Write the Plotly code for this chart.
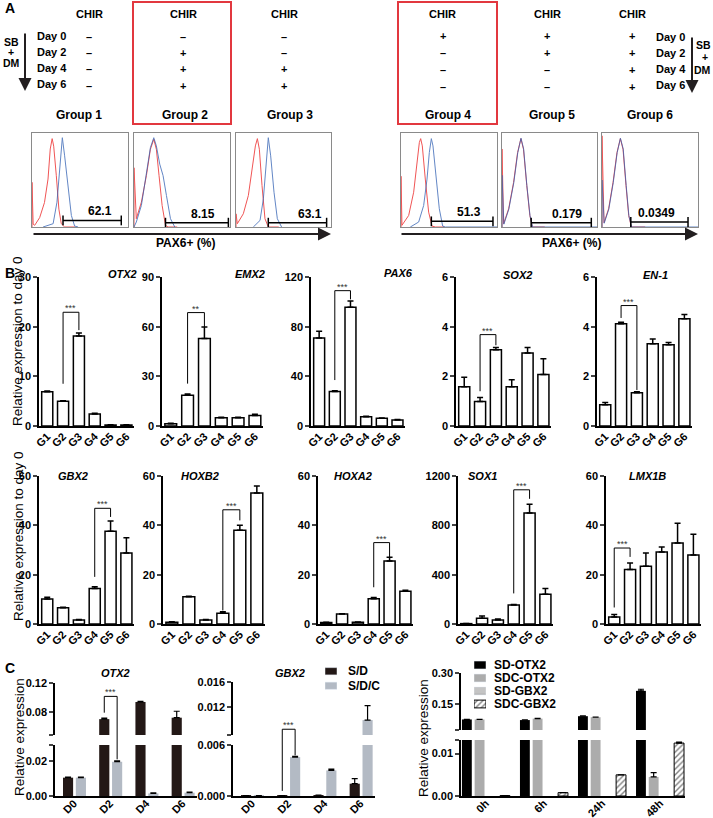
import plotly.graph_objects as go

W, H = 713, 818
FONT = "Liberation Sans, Arial, sans-serif"

# ---------------- Panel A data ----------------
group_names = ["Group 1", "Group 2", "Group 3", "Group 4", "Group 5", "Group 6"]
day_labels = ["Day 0", "Day 2", "Day 4", "Day 6"]
chir_table = [["–", "–", "–", "–"], ["–", "+", "+", "+"], ["–", "–", "+", "+"],
              ["+", "–", "–", "–"], ["+", "+", "–", "–"], ["+", "+", "+", "+"]]
pax6_pct = ["62.1", "8.15", "63.1", "51.3", "0.179", "0.0349"]

hist_red_x = [
    [0, 0, 0.012, 0.028, 0.08, 0.13, 0.167, 0.19, 0.21, 0.226, 0.253, 0.28, 0.305, 0.34, 0.45],
    [0, 0, 0.024, 0.077, 0.129, 0.171, 0.206, 0.233, 0.261, 0.293, 0.328, 0.355, 0.45],
    [0, 0, 0.014, 0.077, 0.13, 0.172, 0.204, 0.225, 0.246, 0.274, 0.305, 0.34, 0.45],
    [0, 0, 0.01, 0.08, 0.132, 0.167, 0.191, 0.205, 0.222, 0.253, 0.288, 0.323, 0.358, 0.45],
    [0, 0, 0.017, 0.07, 0.122, 0.164, 0.199, 0.226, 0.261, 0.293, 0.32, 0.45],
    [0, 0, 0.021, 0.069, 0.115, 0.156, 0.191, 0.219, 0.25, 0.278, 0.306, 0.45],
]
hist_red_y = [
    [0, 0.475, 0.03, 0.018, 0.10, 0.26, 0.51, 0.83, 0.94, 0.86, 0.55, 0.19, 0.035, 0, 0],
    [0, 0.63, 0.088, 0.264, 0.546, 0.827, 0.933, 0.827, 0.546, 0.229, 0.018, 0, 0],
    [0, 0.14, 0.035, 0.141, 0.335, 0.616, 0.863, 0.94, 0.827, 0.44, 0.088, 0, 0],
    [0, 0.54, 0.018, 0.123, 0.37, 0.651, 0.898, 0.94, 0.863, 0.51, 0.158, 0.01, 0, 0],
    [0, 0.83, 0.035, 0.194, 0.475, 0.792, 0.94, 0.827, 0.44, 0.123, 0, 0],
    [0, 0.97, 0.046, 0.194, 0.475, 0.792, 0.94, 0.827, 0.44, 0.123, 0, 0],
]
hist_blue_x = [
    [0.115, 0.22, 0.26, 0.288, 0.309, 0.316, 0.34, 0.375, 0.41, 0.444, 0.48],
    [0.0, 0.024, 0.077, 0.129, 0.171, 0.206, 0.233, 0.268, 0.303, 0.338, 0.38, 0.425],
    [0.182, 0.253, 0.288, 0.312, 0.33, 0.34, 0.365, 0.4, 0.435, 0.48],
    [0.097, 0.184, 0.236, 0.271, 0.295, 0.316, 0.333, 0.365, 0.399, 0.434, 0.462, 1.0],
    [0, 0, 0.02, 0.072, 0.124, 0.166, 0.2, 0.228, 0.262, 0.295, 0.322, 1.0],
    [0, 0, 0.023, 0.071, 0.117, 0.158, 0.192, 0.221, 0.252, 0.28, 0.308, 1.0],
]
hist_blue_y = [
    [0, 0.035, 0.264, 0.616, 0.933, 0.95, 0.757, 0.44, 0.123, 0.01, 0],
    [0.0, 0.053, 0.229, 0.546, 0.845, 0.95, 0.863, 0.669, 0.546, 0.335, 0.088, 0],
    [0, 0.07, 0.30, 0.616, 0.915, 0.95, 0.757, 0.37, 0.088, 0],
    [0, 0.053, 0.229, 0.51, 0.792, 0.94, 0.863, 0.546, 0.194, 0.01, 0, 0],
    [0, 0.55, 0.03, 0.19, 0.47, 0.79, 0.945, 0.83, 0.44, 0.12, 0, 0],
    [0, 0.5, 0.04, 0.19, 0.47, 0.79, 0.945, 0.83, 0.44, 0.12, 0, 0],
]
gate_x = [[0.323, 0.93], [0.328, 0.983], [0.34, 0.954], [0.316, 0.958], [0.307, 0.94], [0.30, 0.896]]
gate_y = [0.07, 0.046, 0.046, 0.06, 0.046, 0.053]
gate_text_x = [0.705, 0.72, 0.779, 0.705, 0.68, 0.566]

# ---------------- Panel B data ----------------
groups_b = ["G1", "G2", "G3", "G4", "G5", "G6"]
genes_b = ["OTX2", "EMX2", "PAX6", "SOX2", "EN-1", "GBX2", "HOXB2", "HOXA2", "SOX1", "LMX1B"]
otx2_b = [6.9, 5.0, 18.1, 2.4, 0.2, 0.2]
otx2_b_err = [0.15, 0.1, 0.6, 0.15, 0.05, 0.05]
emx2_b = [1.4, 18.5, 52.8, 5.0, 5.0, 6.4]
emx2_b_err = [0.2, 0.8, 7.0, 0.3, 0.3, 0.7]
pax6_b = [70.9, 27.8, 95.7, 7.5, 6.2, 4.9]
pax6_b_err = [5.4, 0.5, 4.9, 0.4, 0.3, 0.3]
sox2_b = [1.58, 0.99, 3.07, 1.58, 2.94, 2.07]
sox2_b_err = [0.38, 0.16, 0.09, 0.28, 0.22, 0.64]
en1_b = [0.86, 4.12, 1.34, 3.31, 3.27, 4.32]
en1_b_err = [0.09, 0.06, 0.04, 0.19, 0.09, 0.17]
gbx2_b = [10.1, 6.6, 1.6, 14.4, 37.6, 28.8]
gbx2_b_err = [0.7, 0.2, 0.2, 0.7, 4.2, 6.2]
hoxb2_b = [0.7, 11.0, 1.6, 4.4, 38.0, 53.1]
hoxb2_b_err = [0.2, 0.2, 0.2, 0.6, 2.0, 2.8]
hoxa2_b = [0.6, 4.1, 0.7, 10.2, 25.5, 13.3]
hoxa2_b_err = [0.1, 0.1, 0.1, 0.5, 1.6, 0.4]
sox1_b = [3, 46, 32, 154, 900, 242]
sox1_b_err = [1, 19, 8, 5, 70, 46]
lmx1b_b = [2.8, 22.1, 23.4, 29.2, 32.8, 28.0]
lmx1b_b_err = [1.1, 2.6, 5.4, 2.0, 8.0, 8.4]
values_b = [otx2_b, emx2_b, pax6_b, sox2_b, en1_b, gbx2_b, hoxb2_b, hoxa2_b, sox1_b, lmx1b_b]
errors_b = [otx2_b_err, emx2_b_err, pax6_b_err, sox2_b_err, en1_b_err,
            gbx2_b_err, hoxb2_b_err, hoxa2_b_err, sox1_b_err, lmx1b_b_err]
ymax_b = [30, 90, 120, 6, 6, 60, 60, 60, 1200, 60]
dtick_b = [10, 30, 40, 2, 2, 20, 20, 20, 400, 20]
# significance: (from, to, top, leg1 bottom, leg2 bottom, label)
sig_b = [(1, 2, 22.9, 8.5, 19.3, "***"), (1, 2, 68.5, 25.6, 59.8, "**"), (1, 2, 109, 37, 102, "***"),
         (1, 2, 3.68, 1.4, 3.25, "***"), (1, 2, 4.85, 4.35, 1.45, "***"), (3, 4, 46.9, 19.1, 43.4, "***"),
         (3, 4, 46.3, 5.5, 42, "***"), (3, 4, 33, 14.9, 27.1, "***"), (3, 4, 1088, 248, 1015, "***"),
         (0, 1, 30.8, 6.7, 27.2, "***")]

# ---------------- Panel C data ----------------
days_c = ["D0", "D2", "D4", "D6"]
otx2_sd = [0.0105, 0.0700, 0.0940, 0.0720]
otx2_sd_err = [0.0003, 0.0014, 0.0010, 0.0090]
otx2_sdc = [0.0105, 0.0196, 0.0015, 0.0019]
otx2_sdc_err = [0.0003, 0.0005, 0.0003, 0.0003]
gbx2_sd = [0.00005, 0.00005, 0.0001, 0.00145]
gbx2_sd_err = [0, 0, 0, 0.0006]
gbx2_sdc = [0.00005, 0.00459, 0.00302, 0.00997]
gbx2_sdc_err = [0, 0.0001, 0.00015, 0.0023]
times_c = ["0h", "6h", "24h", "48h"]
sd_otx2 = [0.073, 0.070, 0.089, 0.213]
sd_otx2_err = [0.001, 0.001, 0.001, 0.008]
sdc_otx2 = [0.073, 0.077, 0.084, 0.0045]
sdc_otx2_err = [0.001, 0.001, 0.001, 0.001]
sd_gbx2 = [0, 0, 0, 0]
sdc_gbx2 = [0.0001, 0.0008, 0.005, 0.0125]
sdc_gbx2_err = [0, 0, 0, 0.0002]

# ---------------- helpers ----------------
traces, annotations, shapes, axes = [], [], [], {}
n_ax = [0]


def add_axes(px0, px1, py0, py1, xo, yo):
    n_ax[0] += 1
    k = "" if n_ax[0] == 1 else str(n_ax[0])
    axes["xaxis" + k] = dict(domain=[px0 / W, px1 / W], anchor="y" + k, automargin=False, **xo)
    axes["yaxis" + k] = dict(domain=[1 - py1 / H, 1 - py0 / H], anchor="x" + k, automargin=False, **yo)
    return "x" + k, "y" + k


def fnt(size=11, bold=True, italic=False, color="black"):
    return dict(family=FONT, size=size, color=color, weight="bold" if bold else "normal",
                style="italic" if italic else "normal")


def text(t, px, py, size=11, bold=True, italic=False, angle=0, xanchor="center", yanchor="middle", color="black"):
    annotations.append(dict(text=t, x=px / W, y=1 - py / H, xref="paper", yref="paper", showarrow=False,
                            textangle=angle, xanchor=xanchor, yanchor=yanchor,
                            font=fnt(size, bold, italic, color)))


def arrow(px, py, ax, ay, width=2.0, size=1.0):
    annotations.append(dict(x=px / W, y=1 - py / H, xref="paper", yref="paper", ax=ax, ay=ay,
                            showarrow=True, arrowhead=2, arrowsize=size, arrowwidth=width,
                            arrowcolor="#231f20", text=""))


def line_trace(xa, ya, xs, ys, width=1.0):
    traces.append(go.Scatter(x=xs, y=ys, mode="lines", line=dict(color="black", width=width),
                             xaxis=xa, yaxis=ya, hoverinfo="skip", showlegend=False))


def stars(xa, ya, x, y, label, size=9):
    annotations.append(dict(text=label, x=x, y=y, xref=xa, yref=ya, showarrow=False, yanchor="bottom",
                            yshift=-3, font=fnt(size, False, False, "#333")))


hidden = dict(visible=False, showgrid=False, zeroline=False)

# ---------------- Panel A ----------------
text("A", 3, 8, size=14, xanchor="left")
chir_x = [89, 183, 284, 443, 547, 632]
rows_left = [37, 53, 69, 86]
rows_right = [36, 53, 70, 87]
for g in range(6):
    text("CHIR", chir_x[g], 14, size=11)
    rows = rows_left if g < 3 else rows_right
    for r in range(4):
        text(chir_table[g][r], chir_x[g], rows[r], size=11)
for r in range(4):
    text(day_labels[r], 35, [36, 52, 68, 84][r], size=11, xanchor="left")
    text(day_labels[r], 654, [37, 53, 69, 85][r], size=11, xanchor="left")
for t, y in zip(["SB", "+", "DM"], [42, 52, 63]):
    text(t, 11, y, size=10.5)
text("SB", 713, 45, size=10.5, xanchor="right")
text("+", 705, 57, size=10.5)
text("DM", 713, 70, size=10.5, xanchor="right")
arrow(25, 91, 0, -59, width=2, size=1.3)
arrow(692, 93, 0, -57, width=2, size=1.3)
group_label_x = [79, 185, 290, 448, 552, 650]
for g in range(6):
    text(group_names[g], group_label_x[g], 115, size=12)
for (x0, x1) in [(133, 231), (398, 497)]:
    shapes.append(dict(type="rect", xref="paper", yref="paper", x0=x0 / W, x1=x1 / W,
                       y0=1 - 124 / H, y1=1 - 2 / H, line=dict(color="#e2383f", width=2)))

hist_boxes = [(32, 128), (134, 230), (236, 331), (401, 497), (502, 597), (602, 698)]
for g in range(6):
    xo = dict(range=[0, 1], showline=True, mirror=True, linecolor="#8a8a8a", linewidth=1,
              showticklabels=False, ticks="", showgrid=False, zeroline=False)
    yo = dict(range=[0, 1], showline=True, mirror=True, linecolor="#8a8a8a", linewidth=1,
              showticklabels=False, ticks="", showgrid=False, zeroline=False)
    xa, ya = add_axes(hist_boxes[g][0], hist_boxes[g][1], 133, 227, xo, yo)
    traces.append(go.Scatter(x=hist_red_x[g], y=hist_red_y[g], mode="lines",
                             line=dict(color="#f05555", width=1), xaxis=xa, yaxis=ya, showlegend=False))
    traces.append(go.Scatter(x=hist_blue_x[g], y=hist_blue_y[g], mode="lines", opacity=0.75,
                             line=dict(color="#2f5fb3", width=1), xaxis=xa, yaxis=ya, showlegend=False))
    traces.append(go.Scatter(x=gate_x[g], y=[gate_y[g]] * 2, mode="lines+markers",
                             line=dict(color="black", width=1.5),
                             marker=dict(symbol="line-ns", size=7, line=dict(width=1.5, color="black")),
                             xaxis=xa, yaxis=ya, showlegend=False))
    annotations.append(dict(text=pax6_pct[g], x=gate_text_x[g], y=gate_y[g], xref=xa, yref=ya,
                            showarrow=False, yanchor="bottom", font=fnt(12)))
arrow(331, 234, -299, 0, width=2, size=1.3)
arrow(698, 234, -298, 0, width=2, size=1.3)
text("PAX6+ (%)", 185, 243, size=12)
text("PAX6+ (%)", 571, 243, size=12)

# ---------------- Panel B ----------------
text("B", 3, 273, size=14, xanchor="left")
b_dom_x = [(39, 134), (162, 263), (311, 405), (456, 551), (597, 692),
           (39, 134), (163, 265), (318, 413), (458, 553), (606, 701)]
b_dom_y = [(277, 426)] * 5 + [(476, 624)] * 5
b_title_pos = [(122, 274), (250, 274), (398, 273), (517, 275), (655, 275),
               (73, 476), (200, 476), (353, 476), (483, 476), (647, 476)]
for i in range(10):
    xo = dict(range=[-0.52, 5.48], showline=True, linecolor="black", linewidth=1.5, ticks="",
              tickvals=list(range(6)), ticktext=groups_b, tickangle=-45, tickfont=fnt(11),
              ticklabelstandoff=-2, showgrid=False, zeroline=False)
    yo = dict(range=[0, ymax_b[i]], tick0=0, dtick=dtick_b[i], showline=True, linecolor="black",
              linewidth=1.5, ticks="outside", ticklen=4, tickwidth=1.5, tickfont=fnt(11),
              showgrid=False, zeroline=False)
    xa, ya = add_axes(b_dom_x[i][0], b_dom_x[i][1], b_dom_y[i][0], b_dom_y[i][1], xo, yo)
    traces.append(go.Bar(x=list(range(6)), y=values_b[i], width=0.7,
                         marker=dict(color="white", line=dict(color="black", width=1.5)),
                         error_y=dict(type="data", array=errors_b[i], arrayminus=[0] * 6, symmetric=False,
                                      color="black", thickness=1.5, width=3),
                         xaxis=xa, yaxis=ya, showlegend=False))
    i1, i2, top, b1, b2, lab = sig_b[i]
    line_trace(xa, ya, [i1, i1, i2, i2], [b1, top, top, b2])
    stars(xa, ya, (i1 + i2) / 2, top, lab)
    text(genes_b[i], b_title_pos[i][0], b_title_pos[i][1], size=11, italic=True)
text("Relative expression to day 0", 18, 341, size=13.5, bold=False, angle=-90)
text("Relative expression to day 0", 18, 536, size=13.5, bold=False, angle=-90)

# ---------------- Panel C ----------------
text("C", 3, 668, size=14, xanchor="left")
C_SD, C_SDC = "#231816", "#b3bac4"


def yax(rng, tv, tt):
    return dict(range=rng, tickvals=tv, ticktext=tt, showline=True, linecolor="black", linewidth=1.5,
                ticks="outside", ticklen=4, tickwidth=1.5, tickfont=fnt(11), showgrid=False, zeroline=False)


def xax(rng, labels, show=True):
    if not show:
        return dict(range=rng, visible=False, showgrid=False, zeroline=False)
    return dict(range=rng, showline=True, linecolor="black", linewidth=1.5, ticks="",
                tickvals=list(range(len(labels))), ticktext=labels, tickangle=-45,
                tickfont=fnt(11), ticklabelstandoff=-5, showgrid=False, zeroline=False)


def px_of(v, p0, p1, r0, r1):
    return p0 + (v - r0) / (r1 - r0) * (p1 - p0)


def bar(xa, ya, vals, errs, color, offset, width, line=None, pattern=None):
    marker = dict(color=color, line=line or dict(width=0))
    if pattern:
        marker["pattern"] = pattern
    kw = {}
    if errs is not None:
        kw["error_y"] = dict(type="data", array=errs, arrayminus=[0] * len(vals), symmetric=False,
                             color="black", thickness=1.2, width=3)
    traces.append(go.Bar(x=list(range(len(vals))), y=vals, offset=offset, width=width, marker=marker,
                         xaxis=xa, yaxis=ya, showlegend=False, **kw))


xr_c = [-0.52, 3.4]
w_c, off_sd, off_sdc = 0.28, -0.30, 0.055
left_specs = [
    dict(px=(55, 197), up=(683, 735, [0.0478, 0.1205], [0.0481, 0.08, 0.12], ["", "0.08", "0.12"]),
         lo=(745, 796, [0, 0.0292], [0, 0.02, 0.0291], ["0.00", "0.02", ""]),
         sd=(otx2_sd, otx2_sd_err), sdc=(otx2_sdc, otx2_sdc_err), title=("OTX2", 115)),
    dict(px=(233, 375), up=(682, 735, [0.00758, 0.01605], [0.0076, 0.012, 0.016], ["", "0.012", "0.016"]),
         lo=(745, 796, [0, 0.00602], [0, 0.006], ["0.000", "0.006"]),
         sd=(gbx2_sd, gbx2_sd_err), sdc=(gbx2_sdc, gbx2_sdc_err), title=("GBX2", 290)),
]
cx_sd = off_sd + w_c / 2
cx_sdc = off_sdc + w_c / 2
sub = []
for s in left_specs:
    u = s["up"]
    lo = s["lo"]
    xa_u, ya_u = add_axes(s["px"][0], s["px"][1], u[0], u[1], xax(xr_c, days_c, False), yax(u[2], u[3], u[4]))
    xa_l, ya_l = add_axes(s["px"][0], s["px"][1], lo[0], lo[1], xax(xr_c, days_c, True), yax(lo[2], lo[3], lo[4]))
    for xa, ya in [(xa_u, ya_u), (xa_l, ya_l)]:
        bar(xa, ya, s["sd"][0], s["sd"][1], C_SD, off_sd, w_c)
        bar(xa, ya, s["sdc"][0], s["sdc"][1], C_SDC, off_sdc, w_c)
    text(s["title"][0], s["title"][1], 673, size=11, italic=True)
    sub.append((xa_u, ya_u, xa_l, ya_l, s))

# OTX2 bracket (D2 S/D vs S/D/C), crossing the axis break on the right leg
xa_u, ya_u, xa_l, ya_l, s = sub[0]
xl, xr = 1 + cx_sd, 1 + cx_sdc
line_trace(xa_u, ya_u, [xl, xl, xr, xr], [0.079, 0.1018, 0.1018, 0.0])
line_trace(xa_l, ya_l, [xr, xr], [0.021, 0.1])
stars(xa_u, ya_u, (xl + xr) / 2, 0.1018, "***")
gx = px_of(xr, s["px"][0], s["px"][1], xr_c[0], xr_c[1])
shapes.append(dict(type="line", xref="paper", yref="paper", x0=gx / W, x1=gx / W,
                   y0=1 - s["lo"][0] / H, y1=1 - s["up"][1] / H, line=dict(color="black", width=1)))
# GBX2 bracket, both legs crossing the break
xa_u, ya_u, xa_l, ya_l, s = sub[1]
line_trace(xa_u, ya_u, [xl, xl, xr, xr], [0.0, 0.0085, 0.0085, 0.0])
line_trace(xa_l, ya_l, [xl, xl], [0.0006, 0.01])
line_trace(xa_l, ya_l, [xr, xr], [0.0048, 0.01])
stars(xa_u, ya_u, (xl + xr) / 2, 0.0085, "***")
for xv in (xl, xr):
    gx = px_of(xv, s["px"][0], s["px"][1], xr_c[0], xr_c[1])
    shapes.append(dict(type="line", xref="paper", yref="paper", x0=gx / W, x1=gx / W,
                       y0=1 - s["lo"][0] / H, y1=1 - s["up"][1] / H, line=dict(color="black", width=1)))

text("Relative expression", 19, 737, size=13.5, bold=False, angle=-90)

# right C panel
xr_r = [-0.43, 3.43]
xa_u, ya_u = add_axes(461, 685, 673, 730, xax(xr_r, times_c, False),
                      yax([0.0213, 0.3005], [0.0215, 0.15, 0.30], ["", "0.15", "0.30"]))
xa_l, ya_l = add_axes(461, 685, 740, 796, xax(xr_r, times_c, True),
                      yax([0, 0.01322], [0, 0.01, 0.0132], ["0.00", "0.01", ""]))
w_r = 0.17
hatch = dict(shape="/", fgcolor="black", bgcolor="white", size=4, solidity=0.35)
for xa, ya in [(xa_u, ya_u), (xa_l, ya_l)]:
    bar(xa, ya, sd_otx2, sd_otx2_err, "black", -0.414, w_r)
    bar(xa, ya, sdc_otx2, sdc_otx2_err, "#acacac", -0.195, w_r)
    bar(xa, ya, sd_gbx2, None, "#c4c4c4", 0.024, w_r)
    bar(xa, ya, sdc_gbx2, sdc_gbx2_err, "white", 0.243, w_r,
        line=dict(color="black", width=1), pattern=hatch)
text("Relative expression", 423, 738, size=13.5, bold=False, angle=-90)

# legends (drawn as small swatch bars + labels)
leg_left = ["S/D", "S/D/C"]
xa, ya = add_axes(325, 337, 664, 693, dict(range=[0, 1], **hidden), dict(range=[1.5, -0.5], **hidden))
traces.append(go.Bar(x=[1], y=[0], orientation="h", width=0.5, marker=dict(color=C_SD),
                     xaxis=xa, yaxis=ya, showlegend=False))
traces.append(go.Bar(x=[1], y=[1], orientation="h", width=0.5, marker=dict(color=C_SDC),
                     xaxis=xa, yaxis=ya, showlegend=False))
for r, t in enumerate(leg_left):
    text(t, 346, 671 + r * 14.5, size=12, xanchor="left")

leg_right = ["SD-OTX2", "SDC-OTX2", "SD-GBX2", "SDC-GBX2"]
xa, ya = add_axes(474, 486, 658.5, 710.5, dict(range=[0, 1], **hidden), dict(range=[3.5, -0.5], **hidden))
traces.append(go.Bar(x=[1], y=[0], orientation="h", width=0.6, marker=dict(color="black"),
                     xaxis=xa, yaxis=ya, showlegend=False))
traces.append(go.Bar(x=[1], y=[1], orientation="h", width=0.6, marker=dict(color="#acacac"),
                     xaxis=xa, yaxis=ya, showlegend=False))
traces.append(go.Bar(x=[1], y=[2], orientation="h", width=0.6,
                     marker=dict(color="#c4c4c4", pattern=dict(shape="-", fgcolor="#8c8c8c", bgcolor="#c4c4c4",
                                                               size=8, solidity=0.15)),
                     xaxis=xa, yaxis=ya, showlegend=False))
traces.append(go.Bar(x=[1], y=[3], orientation="h", width=0.6,
                     marker=dict(color="white", line=dict(color="black", width=1), pattern=hatch),
                     xaxis=xa, yaxis=ya, showlegend=False))
for r, t in enumerate(leg_right):
    text(t, 492, 665 + r * 13, size=12, xanchor="left")

fig = go.Figure(data=traces)
fig.update_layout(width=W, height=H, autosize=False, margin=dict(l=0, r=0, t=0, b=0, pad=0),
                  paper_bgcolor="white", plot_bgcolor="white", barmode="overlay", showlegend=False,
                  annotations=annotations, shapes=shapes, font=dict(family=FONT), **axes)
fig.write_html("out.html", config={"displayModeBar": False},
               post_script="document.body.style.margin='0px';")
